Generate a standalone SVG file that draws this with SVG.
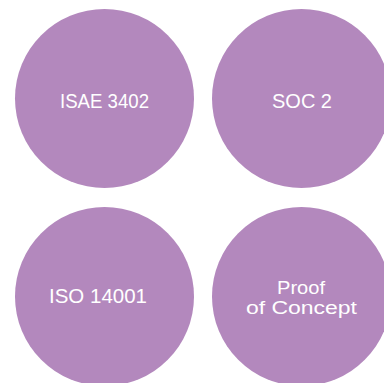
<svg xmlns="http://www.w3.org/2000/svg" width="384" height="383" viewBox="0 0 384 383">
<style>
.c{fill:#B388BD}
.t{fill:#FFFFFF;font-family:"DejaVu Sans ExtraLight","Liberation Sans",Arial,sans-serif;font-weight:200;font-size:20px;text-anchor:middle}
.s{font-size:18px}
</style>
<rect width="384" height="383" fill="#FFFFFF"/>
<g id="node-isae">
<circle class="c" cx="104.5" cy="98.5" r="89.5"/>
<text class="t" x="104.5" y="108" textLength="89" lengthAdjust="spacingAndGlyphs">ISAE 3402</text>
</g>
<g id="node-soc">
<circle class="c" cx="301.5" cy="98.5" r="89.5"/>
<text class="t" x="302" y="108" textLength="60" lengthAdjust="spacingAndGlyphs">SOC 2</text>
</g>
<g id="node-iso">
<circle class="c" cx="104.5" cy="296.5" r="89.5"/>
<text class="t" x="98" y="303" textLength="98" lengthAdjust="spacingAndGlyphs">ISO 14001</text>
</g>
<g id="node-poc">
<circle class="c" cx="301.5" cy="296.5" r="89.5"/>
<text class="t s"><tspan x="301" y="294" textLength="48" lengthAdjust="spacingAndGlyphs">Proof</tspan><tspan x="301.5" y="313.5" textLength="111" lengthAdjust="spacingAndGlyphs">of Concept</tspan></text>
</g>
<g id="connectors"></g>
</svg>
